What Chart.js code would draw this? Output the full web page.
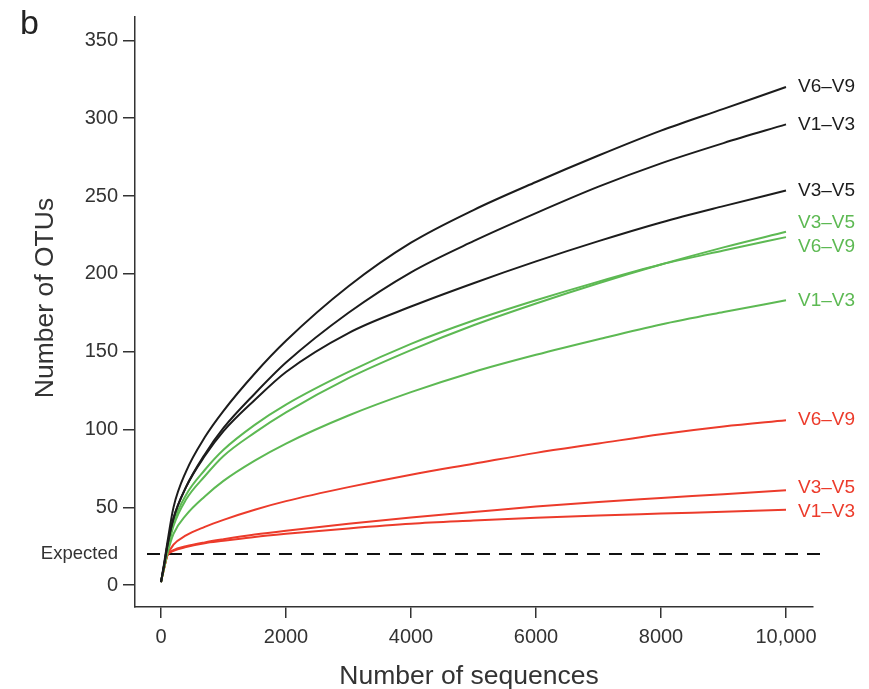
<!DOCTYPE html>
<html>
<head>
<meta charset="utf-8">
<title>OTU rarefaction</title>
<script src="https://cdn.jsdelivr.net/npm/chart.js@4.4.1/dist/chart.umd.min.js"></script>
<style>
  html, body { margin: 0; padding: 0; background: #fff; }
  #wrap { width: 869px; height: 689px; }
</style>
</head>
<body>
<div id="wrap"><canvas id="otuChart" width="869" height="689"></canvas></div>
<script>
// Sequencing depths the curves were read at
var seqDepth = [0, 50, 100, 200, 400, 700, 1000, 1500, 2000, 3000, 4000, 5000, 6000, 7000, 8000, 9000, 10000];

// Black group
var blackV6V9 = [2, 14, 27, 50, 73, 95, 112, 136, 157, 192, 220, 241, 259, 276, 292, 306, 320];
var blackV1V3 = [2, 13, 25, 43, 63, 84, 101, 123, 143, 175, 201, 221, 239, 256, 271, 284, 296];
var blackV3V5 = [2, 13, 25, 43, 63, 83, 99, 119, 137, 162, 179, 194, 208, 221, 233, 243.5, 253.5];

// Green group
var greenV3V5 = [2, 12, 22, 38, 55, 70, 83, 98, 111, 133, 151, 167, 181, 194, 206, 217, 227];
var greenV6V9 = [2, 12, 22, 40, 58, 74, 87, 103, 116, 137, 155, 170, 183, 195, 206, 215, 223.6];
var greenV1V3 = [2, 11, 20, 33, 45, 57, 67, 80, 91, 109, 124, 137, 148, 158, 167.5, 175.5, 183];

// Red group
var redV6V9 = [2, 11, 19, 26, 32, 37.5, 42, 48.5, 54, 63, 71, 78, 85, 91, 97, 102, 106];
var redV3V5 = [2, 11, 19, 22.5, 25, 27.5, 29.5, 32.5, 35, 39.5, 43.5, 47, 50.5, 53.5, 56, 58.5, 61];
var redV1V3 = [2, 11, 19, 22, 24.5, 27, 28.5, 31, 33, 36.5, 39.5, 41.5, 43.3, 44.8, 46, 47.2, 48.4];

var expectedOTUs = 20;
var expectedSpan = [-224, 10580];

var xTicks = [0, 2000, 4000, 6000, 8000, 10000];
var xTickLabels = ['0', '2000', '4000', '6000', '8000', '10,000'];
var yTicks = [0, 50, 100, 150, 200, 250, 300, 350];

var BLACK = '#1c1c1c', GREEN = '#5db953', RED = '#ec3b2b';
var TEXT = '#333333';
var FONT = "'Liberation Sans', Arial, Helvetica, sans-serif";

var series = [
  { name: 'V6\u2013V9', color: BLACK, values: blackV6V9 },
  { name: 'V1\u2013V3', color: BLACK, values: blackV1V3 },
  { name: 'V3\u2013V5', color: BLACK, values: blackV3V5 },
  { name: 'V3\u2013V5', color: GREEN, values: greenV3V5 },
  { name: 'V6\u2013V9', color: GREEN, values: greenV6V9 },
  { name: 'V1\u2013V3', color: GREEN, values: greenV1V3 },
  { name: 'V6\u2013V9', color: RED, values: redV6V9 },
  { name: 'V3\u2013V5', color: RED, values: redV3V5 },
  { name: 'V1\u2013V3', color: RED, values: redV1V3 }
];

function toPoints(values) {
  return values.map(function (v, i) { return { x: seqDepth[i], y: v }; });
}

var datasets = series.map(function (s) {
  return {
    label: s.name,
    data: toPoints(s.values),
    borderColor: s.color,
    borderWidth: 2,
    pointRadius: 0,
    cubicInterpolationMode: 'monotone',
    fill: false,
    endLabel: true
  };
});

// dashed "expected" line, allowed to run a little past the axis end
datasets.push({
  label: 'Expected',
  data: [{ x: expectedSpan[0], y: expectedOTUs }, { x: expectedSpan[1], y: expectedOTUs }],
  borderColor: '#111',
  borderWidth: 2,
  borderDash: [13, 9],
  pointRadius: 0,
  fill: false,
  clip: false
});

// curve names, axis titles, panel letter and "Expected"
var annotations = {
  id: 'annotations',
  afterDatasetsDraw: function (chart) {
    var ctx = chart.ctx;
    var area = chart.chartArea;
    var items = [];
    chart.data.datasets.forEach(function (ds, i) {
      if (!ds.endLabel) return;
      var pts = chart.getDatasetMeta(i).data;
      var last = pts[pts.length - 1];
      items.push({ text: ds.label, color: ds.borderColor, x: last.x + 12, y: last.y });
    });
    // push apart labels that would overlap
    items.sort(function (a, b) { return a.y - b.y; });
    var minGap = 24;
    for (var pass = 0; pass < 5; pass++) {
      for (var k = 1; k < items.length; k++) {
        var gap = items[k].y - items[k - 1].y;
        if (gap < minGap) {
          var shift = (minGap - gap) / 2;
          items[k - 1].y -= shift;
          items[k].y += shift;
        }
      }
    }
    ctx.save();
    ctx.font = '19px ' + FONT;
    ctx.textAlign = 'left';
    ctx.textBaseline = 'middle';
    items.forEach(function (it) {
      ctx.fillStyle = it.color;
      ctx.fillText(it.text, it.x, it.y);
    });

    var yScale = chart.scales.y;
    ctx.fillStyle = TEXT;
    ctx.textAlign = 'right';
    ctx.font = '18.5px ' + FONT;
    ctx.fillText('Expected', 118, yScale.getPixelForValue(expectedOTUs));

    // axis titles
    ctx.font = '26.5px ' + FONT;
    ctx.textAlign = 'center';
    ctx.textBaseline = 'alphabetic';
    ctx.fillText('Number of sequences', (area.left + area.right) / 2 - 5, 684);
    ctx.save();
    ctx.translate(53, (area.top + area.bottom) / 2 - 14);
    ctx.rotate(-Math.PI / 2);
    ctx.fillText('Number of OTUs', 0, 0);
    ctx.restore();

    ctx.textAlign = 'left';
    ctx.textBaseline = 'top';
    ctx.font = '34px ' + FONT;
    ctx.fillStyle = '#222';
    ctx.fillText('b', 20, 8);
    ctx.restore();
  }
};

Chart.defaults.font.family = FONT;
Chart.defaults.color = TEXT;

var ctx = document.getElementById('otuChart').getContext('2d');
var otuChart = new Chart(ctx, {
  type: 'line',
  data: { datasets: datasets },
  options: {
    responsive: false,
    animation: false,
    layout: { padding: { top: 12, right: 56, bottom: 0, left: 0 } },
    plugins: {
      legend: { display: false },
      tooltip: { enabled: false }
    },
    scales: {
      x: {
        type: 'linear',
        min: -416,
        max: 10432,
        afterBuildTicks: function (scale) {
          scale.ticks = xTicks.map(function (v) { return { value: v }; });
        },
        afterFit: function (scale) { scale.height = 82; },
        ticks: {
          autoSkip: false,
          maxRotation: 0,
          padding: 7,
          font: { size: 20 },
          color: TEXT,
          callback: function (value) {
            var i = xTicks.indexOf(value);
            return i >= 0 ? xTickLabels[i] : '';
          }
        },
        grid: { drawOnChartArea: false, drawTicks: true, tickLength: 11, color: '#333', lineWidth: 1.5 },
        border: { display: true, color: '#333', width: 1.5 }
      },
      y: {
        type: 'linear',
        min: -14,
        max: 365,
        afterBuildTicks: function (scale) {
          scale.ticks = yTicks.map(function (v) { return { value: v }; });
        },
        afterFit: function (scale) { scale.width = 135; },
        ticks: {
          autoSkip: false,
          padding: 5,
          font: { size: 20 },
          color: TEXT
        },
        grid: { drawOnChartArea: false, drawTicks: true, tickLength: 12, color: '#333', lineWidth: 1.5 },
        border: { display: true, color: '#333', width: 1.5 }
      }
    }
  },
  plugins: [annotations]
});
</script>
</body>
</html>
